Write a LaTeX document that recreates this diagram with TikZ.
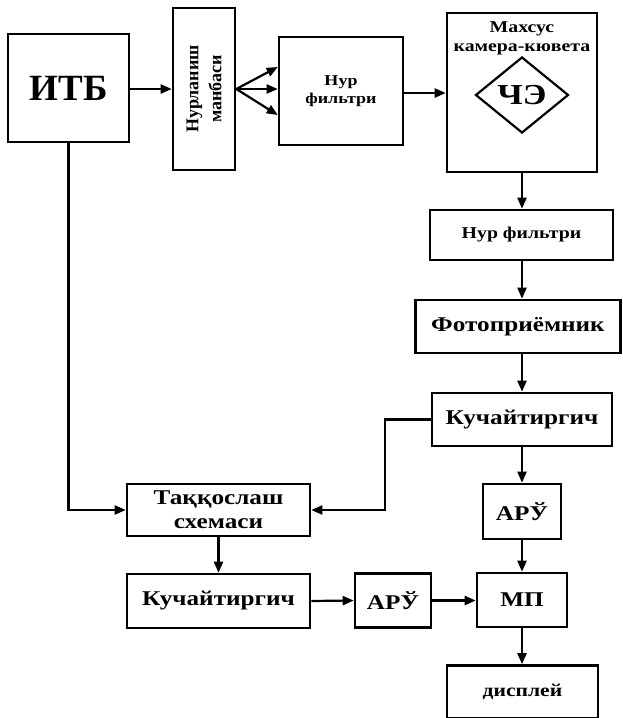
\documentclass[tikz,border=0pt]{standalone}
\usepackage{fontspec}
\setmainfont{Liberation Serif}
\newfontfamily\widefont[FakeStretch=1.2]{Liberation Serif}
\usetikzlibrary{arrows.meta, shapes.geometric}

\begin{document}
\begin{tikzpicture}[x=1pt, y=-1pt, >={Triangle[length=11pt,width=9pt]},
      blk/.style={draw, line width=2.6pt, align=center, inner sep=0pt, font=\widefont\bfseries\fontsize{21}{23}\selectfont},
      small/.style={font=\widefont\bfseries\fontsize{16.5}{19}\selectfont},
      arr/.style={->, line width=2.2pt}]
    \useasboundingbox (0,0) rectangle (623,718);
    % top row
    \node[blk, minimum width=121pt, minimum height=108pt, font=\bfseries\fontsize{37}{40}\selectfont] (itb) at (68.5,88) {ИТБ};
    \node[blk, minimum width=162pt, minimum height=62pt, rotate=90, font=\bfseries\fontsize{18}{23}\selectfont] (src) at (204,89) {Нурланиш\\манбаси};
    \node[blk, minimum width=124pt, minimum height=108pt, font=\widefont\bfseries\fontsize{15}{18}\selectfont] (flt1) at (341,91) {Нур\\фильтри};
    \node[blk, minimum width=150pt, minimum height=159pt] (cam) at (522,92.5) {};
    \node[small, align=center, anchor=north, inner sep=0pt] (camlbl) at (522,21) {Махсус\\камера-кювета};
    \node[blk, diamond, aspect=1.22, minimum width=93pt, minimum height=76pt, line width=2.2pt, font=\widefont\bfseries\fontsize{29}{31}\selectfont] (ce) at (522,95) {ЧЭ};
    \draw[arr] (itb.east |- 0,89) -- (src.north |- 0,89);
    \draw[arr] (src.south |- 0,89) -- ([yshift=24pt]flt1.west);
    \draw[arr] (src.south |- 0,89) -- (flt1.west |- 0,89);
    \draw[arr] (src.south |- 0,89) -- ([yshift=-24pt]flt1.west);
    \draw[arr] (flt1.east |- 0,93) -- (cam.west |- 0,93);
    % right column
    \node[blk, small, minimum width=183pt, minimum height=50pt] (flt2) at (521.5,235) {Нур фильтри};
    \node[blk, minimum width=205pt, minimum height=53pt] (photo) at (518,326.5) {Фотоприёмник};
    \node[blk, minimum width=180pt, minimum height=53pt] (amp1) at (522,419.5) {Кучайтиргич};
    \node[blk, minimum width=78pt, minimum height=55pt] (aru1) at (522,511.5) {АРЎ};
    \node[blk, minimum width=90pt, minimum height=54pt] (mp) at (522,600) {МП};
    \node[blk, minimum width=151pt, minimum height=53pt, font=\widefont\bfseries\fontsize{18}{20}\selectfont] (disp) at (522.5,692) {дисплей};
    \draw[arr] (cam.south) -- (flt2.north -| cam.south);
    \draw[arr] (flt2.south -| cam.south) -- (photo.north -| cam.south);
    \draw[arr] (photo.south -| amp1.north) -- (amp1.north);
    \draw[arr] (amp1.south) -- (aru1.north);
    \draw[arr] (aru1.south) -- (mp.north);
    \draw[arr] (mp.south) -- (disp.north -| mp.south);
    % left branch
    \node[blk, minimum width=183pt, minimum height=52pt, font=\widefont\bfseries\fontsize{21}{24}\selectfont] (cmp) at (218.5,510) {Таққослаш\\схемаси};
    \node[blk, minimum width=183pt, minimum height=54pt] (amp2) at (218.5,601) {Кучайтиргич};
    \node[blk, minimum width=76pt, minimum height=54pt] (aru2) at (393,600.5) {АРЎ};
    \draw[arr] (itb.south) |- (cmp.west);
    \draw[arr] (amp1.west) -- ++(-46,0) |- (cmp.east);
    \draw[arr] (cmp.south) -- (amp2.north);
    \draw[arr] (amp2.east) -- (aru2.west);
    \draw[arr] (aru2.east) -- (mp.west |- aru2.east);
\end{tikzpicture}
\end{document}
